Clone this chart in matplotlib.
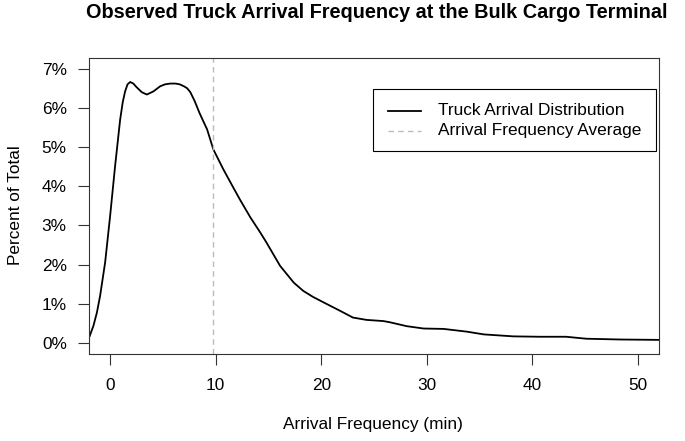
import matplotlib
matplotlib.use("Agg")
import matplotlib.pyplot as plt
from matplotlib.lines import Line2D
from matplotlib.patches import Rectangle

# density curve (minutes, percent of total)
arrival_min = [-2.0, -1.58, -1.25, -0.95, -0.47, 0.0, 0.47, 0.95, 1.2, 1.42,
               1.65, 1.9, 2.2, 2.5, 3.0, 3.48, 4.1, 4.74, 5.2, 5.7,
               6.2, 6.6, 7.0, 7.3, 7.6, 8.0, 8.5, 9.19, 9.78, 10.73,
               11.5, 12.3, 13.3, 14.2, 14.8, 16.1, 17.4, 18.3, 19.2, 20.2,
               21.8, 23.0, 24.3, 25.9, 26.5, 28.1, 29.7, 31.6, 33.8, 35.4,
               38.2, 40.7, 43.2, 45.1, 48.3, 52.0]
pct_total = [0.13, 0.44, 0.78, 1.2, 2.06, 3.24, 4.51, 5.7, 6.15, 6.42,
             6.6, 6.66, 6.62, 6.53, 6.4, 6.34, 6.42, 6.55, 6.6, 6.62,
             6.62, 6.6, 6.55, 6.5, 6.4, 6.18, 5.85, 5.45, 4.94, 4.43,
             4.05, 3.66, 3.2, 2.83, 2.57, 1.97, 1.54, 1.33, 1.18, 1.04,
             0.82, 0.65, 0.59, 0.56, 0.53, 0.43, 0.37, 0.36, 0.29, 0.22,
             0.17, 0.16, 0.16, 0.11, 0.09, 0.08]
mean_freq = 9.78

x_ticks = [0, 10, 20, 30, 40, 50]
y_ticks = [0, 1, 2, 3, 4, 5, 6, 7]
y_labels = ["0%", "1%", "2%", "3%", "4%", "5%", "6%", "7%"]
legend_labels = ["Truck Arrival Distribution", "Arrival Frequency Average"]

W, H = 685, 441
FS = 12.4
plt.rcParams["font.family"] = ["Liberation Sans", "DejaVu Sans"]

fig = plt.figure(figsize=(W / 100, H / 100), dpi=100)
ax = fig.add_axes([89 / W, 1 - 354 / H, (659 - 89) / W, (354 - 57.7) / H])

ax.plot(arrival_min, pct_total, color="black", lw=1.3)
ax.axvline(mean_freq, color="#bbbbbb", lw=1.0, dashes=(4, 3))

ax.set_xlim(-2, 52)
ax.set_ylim(-0.28, 7.28)
ax.set_xticks(x_ticks)
ax.set_yticks(y_ticks)
ax.set_yticklabels(y_labels)
ax.tick_params(axis="both", length=8, width=0.8, color="#333333", labelsize=FS)
ax.tick_params(axis="x", pad=9)
ax.tick_params(axis="y", pad=8)
for s in ax.spines.values():
    s.set_linewidth(0.8)
    s.set_color("#333333")

# title and axis labels placed like R base graphics
fig.text(376.5 / W, 1 - 12 / H, "Observed Truck Arrival Frequency at the Bulk Cargo Terminal",
         ha="center", va="center", fontsize=14.3, fontweight="bold")
fig.text(373 / W, 1 - 425 / H, "Arrival Frequency (min)", ha="center", va="center", fontsize=FS)
fig.text(15.5 / W, 1 - 205 / H, "Percent of Total", ha="center", va="center",
         fontsize=FS, rotation=90)

# legend box, drawn by hand
def px(x, y):
    return x / W, 1 - y / H

x0, y0 = px(373.3, 150.7)
x1, y1 = px(656, 89.3)
fig.patches.append(Rectangle((x0, y0), x1 - x0, y1 - y0, transform=fig.transFigure,
                             facecolor="white", edgecolor="black", lw=0.8, zorder=5))
rows = [110.7, 131.0]
styles = [dict(color="black", lw=1.3), dict(color="#bbbbbb", lw=1.0, dashes=(4, 3))]
for yy, lab, st in zip(rows, legend_labels, styles):
    a, b = px(388, yy)
    c, _ = px(420.7, yy)
    fig.add_artist(Line2D([a, c], [b, b], transform=fig.transFigure, zorder=6, **st))
    tx, ty = px(437.7, yy)
    fig.text(tx, ty, lab, ha="left", va="center", fontsize=FS, zorder=6)

fig.savefig("out.png", dpi=100)
